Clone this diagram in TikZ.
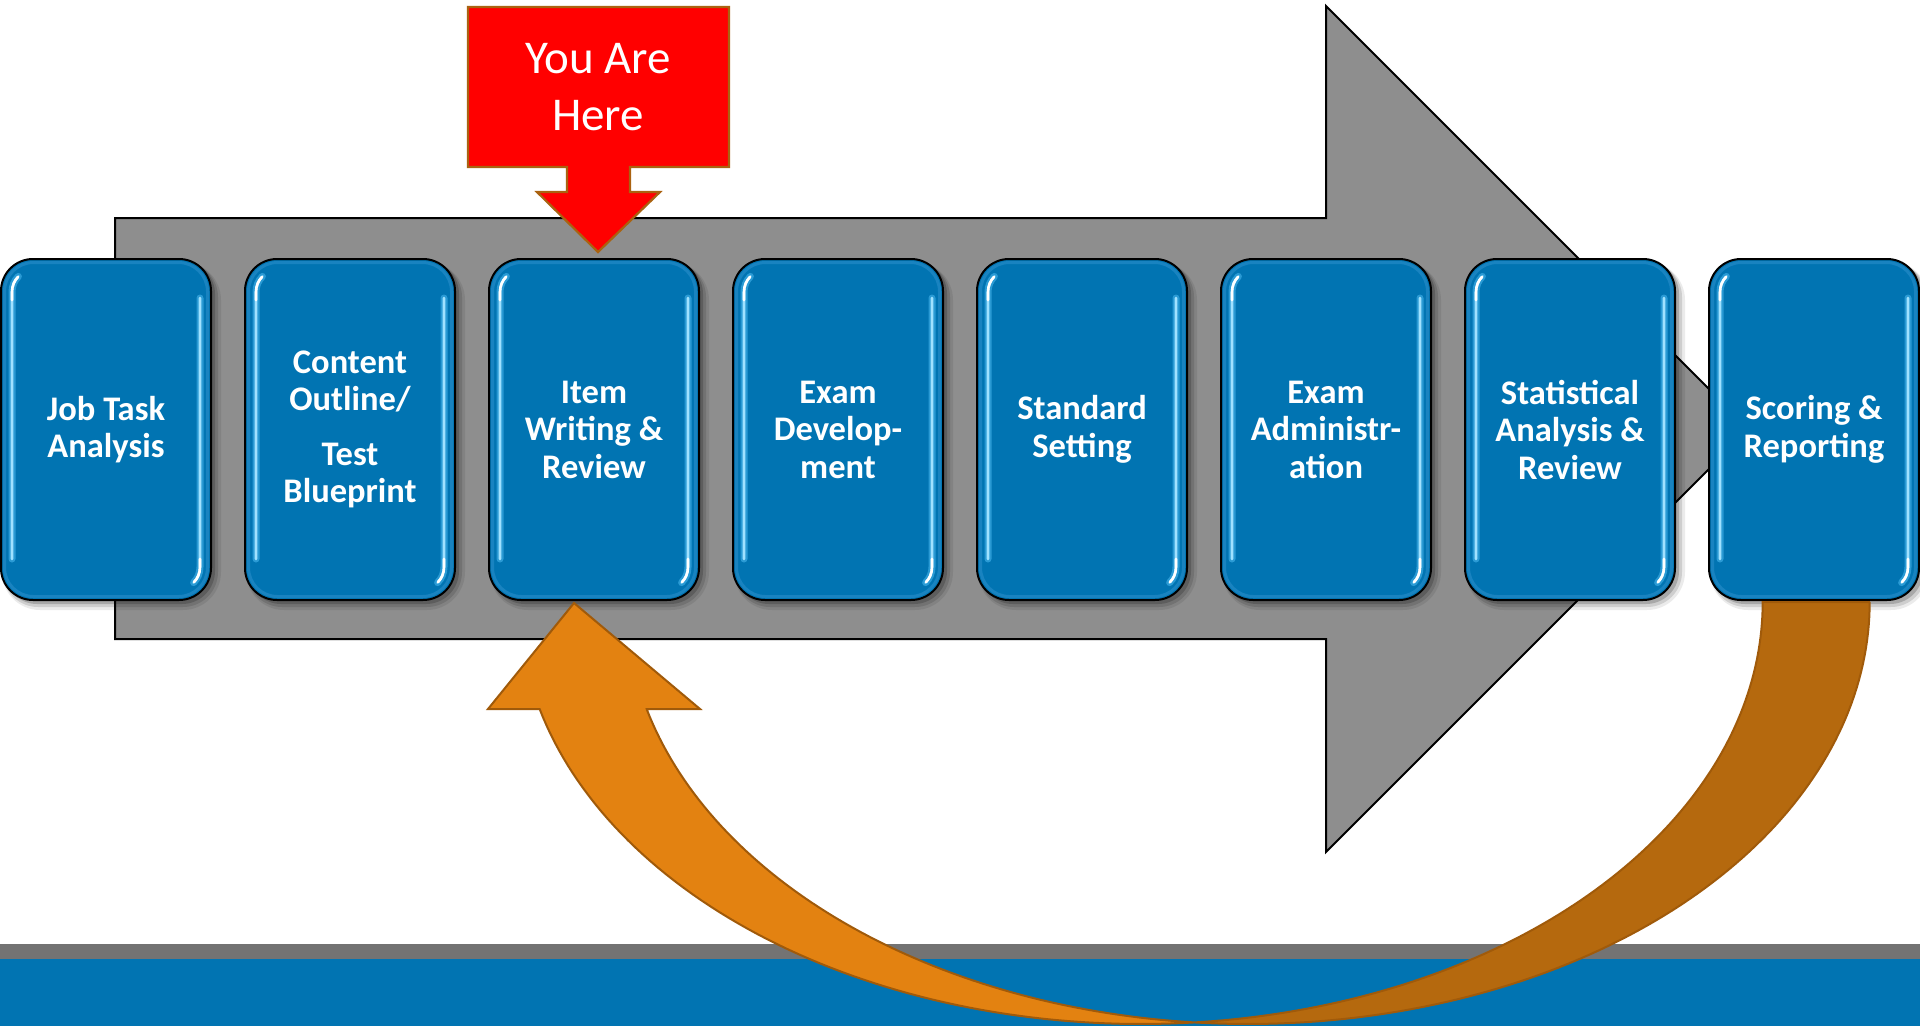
\documentclass[tikz,border=0pt]{standalone}
\usepackage{fontspec}
\setmainfont{Carlito}
\usetikzlibrary{calc}
\definecolor{boxblue}{RGB}{1,116,178}
\definecolor{rimblue}{RGB}{45,145,205}
\definecolor{arrowgray}{RGB}{142,142,142}
\definecolor{bandgray}{RGB}{115,115,115}
\definecolor{bandblue}{RGB}{1,116,178}
\definecolor{herered}{RGB}{255,0,0}
\definecolor{hereborder}{RGB}{170,98,16}
\definecolor{lightorange}{RGB}{227,130,17}
\definecolor{darkorange}{RGB}{181,105,14}
\definecolor{orangeborder}{RGB}{160,90,10}
\definecolor{glowblue}{RGB}{70,180,235}
\definecolor{glowcore}{RGB}{160,225,255}
\newcommand\stagefont{\fontsize{34.5}{37.5}\selectfont\bfseries}
\newcommand\herefont{\fontsize{47}{57}\selectfont}
\tikzset{
  stagebox/.style={draw=black, line width=2pt, fill=boxblue, rounded corners=32pt,
    minimum width=210pt, minimum height=341pt, inner sep=0pt, text=white,
    font=\stagefont, align=center},
  glowline/.style={draw=glowblue, line width=7pt, opacity=0.6, line cap=round},
  coreline/.style={draw=glowcore, line width=2.6pt, line cap=round},
  spotline/.style={draw=white, line width=2.6pt, line cap=round},
  rimline/.style={draw=rimblue, line width=3pt, opacity=0.55, rounded corners=29pt},
  bigarrow/.style={fill=arrowgray, draw=black, line width=2pt},
  herearrow/.style={fill=herered, draw=hereborder, line width=2.2pt, line join=miter},
  lightpart/.style={fill=lightorange, draw=orangeborder, line width=2pt},
  darkpart/.style={fill=darkorange, draw=orangeborder, line width=2pt},
}
\begin{document}
\begin{tikzpicture}[x=1pt, y=-1pt]
\useasboundingbox (0,0) rectangle (1920,1026);
\fill[white] (0,0) rectangle (1920,1026);

% big gray process arrow
\coordinate (gA) at (115,218);
\coordinate (gB) at (1326,218);
\coordinate (gC) at (1326,6);
\coordinate (gTip) at (1749,429);
\coordinate (gD) at (1326,852);
\coordinate (gE) at (1326,639);
\coordinate (gF) at (115,639);
\draw[bigarrow] (gA) -- (gB) -- (gC) -- (gTip) -- (gD) -- (gE) -- (gF) -- cycle;

% soft shadows of the stage boxes
\foreach \i in {0,...,7}{
  \pgfmathsetmacro\L{1+244*\i}
  \fill[black, opacity=0.08, rounded corners=38pt] (\L+1,262) rectangle (\L+220,610);
  \fill[black, opacity=0.12, rounded corners=35pt] (\L+2,262) rectangle (\L+217,607);
  \fill[black, opacity=0.18, rounded corners=33pt] (\L+3,261) rectangle (\L+214,604);
}

% stage boxes
\node[stagebox] (b1) at (106,429.5) {Job Task\\Analysis};
\node[stagebox] (b2) at (350,429.5) {Content\\Outline/\\[17pt]Test\\Blueprint};
\node[stagebox] (b3) at (594,429.5) {Item\\Writing \&\\Review};
\node[stagebox] (b4) at (838,429.5) {Exam\\Develop-\\ment};
\node[stagebox] (b5) at (1082,429.5) {Standard\\Setting};
\node[stagebox] (b6) at (1326,429.5) {Exam\\Administr-\\ation};
\node[stagebox] (b7) at (1570,429.5) {Statistical\\Analysis \&\\Review};
\node[stagebox] (b8) at (1814,429.5) {Scoring \&\\Reporting};

% glossy rim and highlights
\foreach \n in {b1,b2,b3,b4,b5,b6,b7,b8}{
  \draw[rimline] ($(\n.north west)+(4.5,4.5)$) rectangle ($(\n.south east)+(-4.5,-4.5)$);
  \draw[glowline] ($(\n.south west)+(12,-42)$) -- ($(\n.north west)+(12,34)$)
     .. controls ($(\n.north west)+(12,28)$) and ($(\n.north west)+(14.3,22.5)$) .. ($(\n.north west)+(18.4,18.4)$);
  \draw[coreline] ($(\n.south west)+(12,-42)$) -- ($(\n.north west)+(12,34)$)
     .. controls ($(\n.north west)+(12,28)$) and ($(\n.north west)+(14.3,22.5)$) .. ($(\n.north west)+(18.4,18.4)$);
  \draw[spotline] ($(\n.north west)+(12,42)$) -- ($(\n.north west)+(12,34)$)
     .. controls ($(\n.north west)+(12,28)$) and ($(\n.north west)+(14.3,22.5)$) .. ($(\n.north west)+(18,19)$);
  \draw[glowline] ($(\n.north east)+(-12,40)$) -- ($(\n.south east)+(-12,-34)$)
     .. controls ($(\n.south east)+(-12,-28)$) and ($(\n.south east)+(-14.3,-22.5)$) .. ($(\n.south east)+(-18.4,-18.4)$);
  \draw[coreline] ($(\n.north east)+(-12,40)$) -- ($(\n.south east)+(-12,-34)$)
     .. controls ($(\n.south east)+(-12,-28)$) and ($(\n.south east)+(-14.3,-22.5)$) .. ($(\n.south east)+(-18.4,-18.4)$);
  \draw[spotline] ($(\n.south east)+(-12,-42)$) -- ($(\n.south east)+(-12,-34)$)
     .. controls ($(\n.south east)+(-12,-28)$) and ($(\n.south east)+(-14.3,-22.5)$) .. ($(\n.south east)+(-18,-19)$);
}

% "You Are Here" arrow
\coordinate (hTip) at (598,252);
\draw[herearrow] (468,7) -- (729,7) -- (729,167) -- (630,167) -- (630,192) -- (660,192)
   -- (hTip) -- (537,192) -- (567,192) -- (567,167) -- (468,167) -- cycle;
\node[font=\herefont, text=white, align=center, inner sep=0pt] (here) at (598,87.5) {You Are\\Here};

% bottom bands
\fill[bandgray] (0,944) rectangle (1920,959);
\fill[bandblue] (0,959) rectangle (1920,1026);

% curved feedback arrow (from Scoring & Reporting back to Item Writing & Review)
\coordinate (oTip) at (574,603);
\draw[lightpart, line join=miter] (488,709) -- (oTip) -- (700,709) -- (647,709)
   -- plot[domain=165.3:94.94, samples=70] ({1248+621.7*cos(\x)},{602+422*sin(\x)})
   -- plot[domain=85.06:165.3, samples=70] ({1141+621.7*cos(\x)},{602+422*sin(\x)})
   -- cycle;
\draw[darkpart] (1870,602)
   -- plot[domain=0:94.94, samples=90] ({1248+621.7*cos(\x)},{602+422*sin(\x)})
   -- plot[domain=85.06:0, samples=90] ({1141+621.7*cos(\x)},{602+422*sin(\x)})
   -- cycle;
\end{tikzpicture}
\end{document}
